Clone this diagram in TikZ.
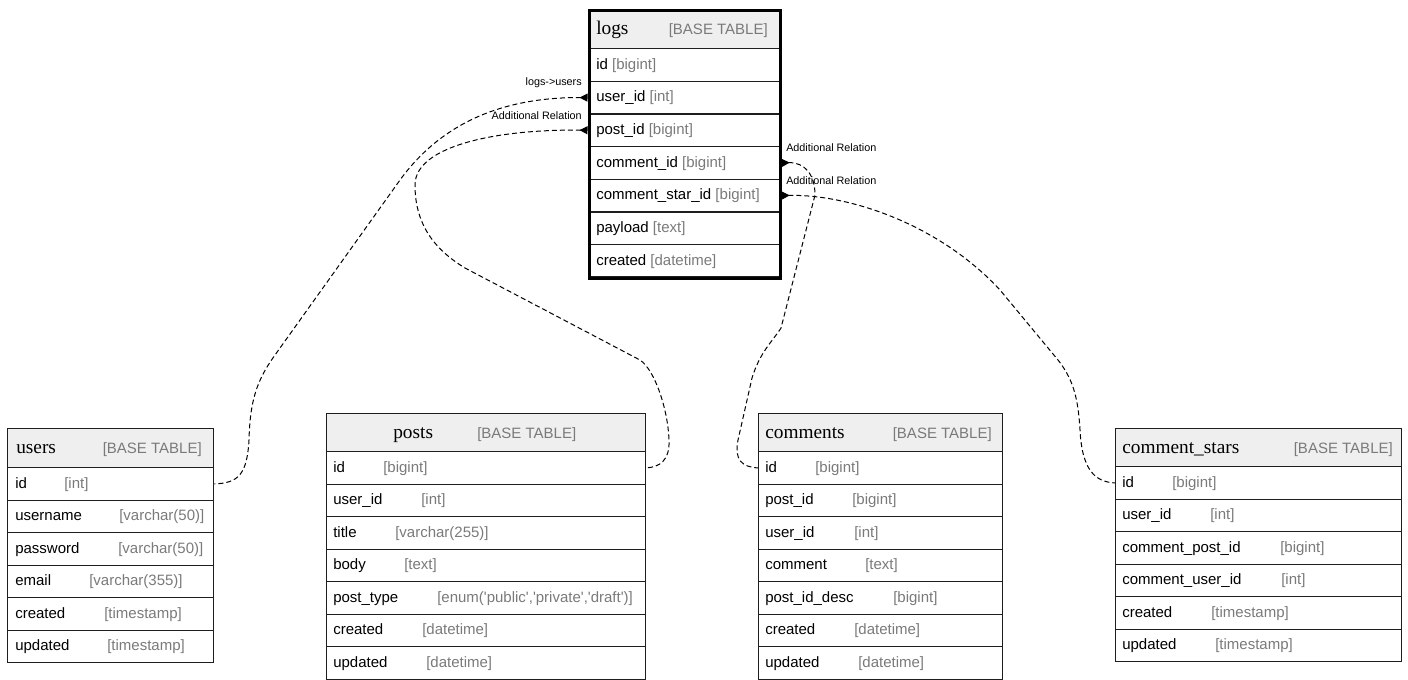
\documentclass[tikz,border=0pt]{standalone}
\usepackage{fontspec}
\newfontfamily\sansf{Liberation Sans}
\newfontfamily\seriff{Liberation Serif}
\usetikzlibrary{arrows.meta}
\definecolor{hdrfill}{HTML}{EFEFEF}
\definecolor{typegray}{HTML}{7A7A7A}
\definecolor{rulecol}{HTML}{1E1E1E}

\tikzset{
  rowbox/.style={draw=rulecol, line width=1pt, rectangle, anchor=north west,
    inner sep=0pt, minimum height={32.5*0.75pt}},
  hdrbox/.style={rowbox, fill=hdrfill, minimum height={38*0.75pt}},
  fld/.style={font=\sansf\fontsize{11.25pt}{13pt}\selectfont, anchor=base west,
    inner sep=0pt, text=black},
  typ/.style={fld, text=typegray},
  tname/.style={font=\seriff\fontsize{14.5pt}{17pt}\selectfont, anchor=base west,
    inner sep=0pt, text=black},
  tkind/.style={fld, anchor=base east, text=typegray},
  lbl/.style={font=\sansf\fontsize{8.1pt}{10pt}\selectfont, inner sep=0pt, text=black},
  rel/.style={line width=0.75pt, dash pattern=on 3.75pt off 2.25pt,
    arrows={Triangle[reversed,length=6pt,width=6pt]-}},
  frame/.style={draw=black, line width=2.4pt, rectangle, anchor=north west, inner sep=0pt},
}

\begin{document}
\begin{tikzpicture}[x=0.75pt,y=-0.75pt]
\useasboundingbox (0,0) rectangle (1408,679);

% ---------------- logs ----------------
\node[hdrbox, minimum width={191*0.75pt}, minimum height={39.5*0.75pt}] (logs-head) at (587.5,8.5) {};
\node[tname] (logs-title) at (596,34) {logs};
\node[tkind] (logs-kind) at (768,34) {[BASE TABLE]};
\foreach \k/\n/\t [count=\i from 0] in {
    id/id/{[bigint]},
    user_id/user\_id/{[int]},
    post_id/post\_id/{[bigint]},
    comment_id/comment\_id/{[bigint]},
    comment_star_id/comment\_star\_id/{[bigint]},
    payload/payload/{[text]},
    created/created/{[datetime]}}{
  \node[rowbox, minimum width={191*0.75pt}, minimum height={32.64*0.75pt}]
    (logs-\k) at (587.5,48+32.64*\i) {};
  \node[fld] (logs-\k-name) at (596,48+32.64*\i+21.3) {\n\ \textcolor{typegray}{\t}};
}
\node[frame, minimum width={191*0.75pt}, minimum height={268*0.75pt}] (logs) at (587.5,8.5) {};

% ---------------- users ----------------
\node[hdrbox, minimum width={206*0.75pt}, minimum height={39*0.75pt}] (users-head) at (7,428) {};
\node[tname] (users-title) at (16,453) {users};
\node[tkind] (users-kind) at (202,453) {[BASE TABLE]};
\foreach \k/\n/\tx/\t [count=\i from 0] in {
    id/id/64/{[int]},
    username/username/119/{[varchar(50)]},
    password/password/118/{[varchar(50)]},
    email/email/89/{[varchar(355)]},
    created/created/104/{[timestamp]},
    updated/updated/107/{[timestamp]}}{
  \node[rowbox, minimum width={206*0.75pt}] (users-\k) at (7,467+32.5*\i) {};
  \node[fld] (users-\k-name) at (15,467+32.5*\i+21.25) {\n};
  \node[typ] (users-\k-type) at (\tx,467+32.5*\i+21.25) {\t};
}

% ---------------- posts ----------------
\node[hdrbox, minimum width={319*0.75pt}] (posts-head) at (326,413) {};
\node[tname] (posts-title) at (393,438) {posts};
\node[typ] (posts-kind) at (477,438) {[BASE TABLE]};
\foreach \k/\n/\tx/\t [count=\i from 0] in {
    id/id/383/{[bigint]},
    user_id/user\_id/421/{[int]},
    title/title/395/{[varchar(255)]},
    body/body/404/{[text]},
    post_type/post\_type/437/{[enum('public','private','draft')]},
    created/created/422/{[datetime]},
    updated/updated/426/{[datetime]}}{
  \node[rowbox, minimum width={319*0.75pt}] (posts-\k) at (326,451+32.5*\i) {};
  \node[fld] (posts-\k-name) at (333,451+32.5*\i+21.25) {\n};
  \node[typ] (posts-\k-type) at (\tx,451+32.5*\i+21.25) {\t};
}

% ---------------- comments ----------------
\node[hdrbox, minimum width={244*0.75pt}] (comments-head) at (758,413) {};
\node[tname] (comments-title) at (765,438) {comments};
\node[tkind] (comments-kind) at (992,438) {[BASE TABLE]};
\foreach \k/\n/\tx/\t [count=\i from 0] in {
    id/id/815/{[bigint]},
    post_id/post\_id/852/{[bigint]},
    user_id/user\_id/854/{[int]},
    comment/comment/865/{[text]},
    post_id_desc/post\_id\_desc/893/{[bigint]},
    created/created/854/{[datetime]},
    updated/updated/858/{[datetime]}}{
  \node[rowbox, minimum width={244*0.75pt}] (comments-\k) at (758,451+32.5*\i) {};
  \node[fld] (comments-\k-name) at (765,451+32.5*\i+21.25) {\n};
  \node[typ] (comments-\k-type) at (\tx,451+32.5*\i+21.25) {\t};
}

% ---------------- comment_stars ----------------
\node[hdrbox, minimum width={286*0.75pt}] (comment_stars-head) at (1115,428) {};
\node[tname] (comment_stars-title) at (1122,453) {comment\_stars};
\node[tkind] (comment_stars-kind) at (1393,453) {[BASE TABLE]};
\foreach \k/\n/\tx/\t [count=\i from 0] in {
    id/id/1172/{[bigint]},
    user_id/user\_id/1210/{[int]},
    comment_post_id/comment\_post\_id/1280/{[bigint]},
    comment_user_id/comment\_user\_id/1281/{[int]},
    created/created/1211/{[timestamp]},
    updated/updated/1215/{[timestamp]}}{
  \node[rowbox, minimum width={286*0.75pt}] (comment_stars-\k) at (1115,466+32.5*\i) {};
  \node[fld] (comment_stars-\k-name) at (1122,466+32.5*\i+21.25) {\n};
  \node[typ] (comment_stars-\k-type) at (\tx,466+32.5*\i+21.25) {\t};
}

% ---------------- relations ----------------
\draw[rel] (logs.west |- logs-user_id)
  .. controls (500,97) and (440,125) .. (400,180)
  -- (275,355)
  .. controls (257,380) and (250,400) .. (249,440)
  .. controls (247,475) and (238,483) .. (users-id.east);

\draw[rel] (logs.west |- logs-post_id)
  .. controls (500,129) and (415,145) .. (415,185)
  .. controls (415,222) and (432,248) .. (465,268)
  -- (640,360)
  .. controls (655,370) and (668,410) .. (669,440)
  .. controls (670,460) and (660,467) .. (posts-id.east);

\draw[rel] (logs.east |- logs-comment_id)
  .. controls (805,162) and (815,175) .. (815,195)
  -- (781,328)
  .. controls (772,342) and (760,352) .. (752,378)
  -- (738,440)
  .. controls (734,460) and (742,467) .. (comments-id.west);

\draw[rel] (logs.east |- logs-comment_star_id)
  .. controls (850,194) and (940,225) .. (1000,290)
  -- (1058,360)
  .. controls (1072,378) and (1078,395) .. (1080,430)
  .. controls (1082,470) and (1095,482) .. (comment_stars-id.west);

% relation labels
\node[lbl, anchor=base east] (rel-users) at (582,85.5) {logs->users};
\node[lbl, anchor=base east] (rel-posts) at (582,119) {Additional Relation};
\node[lbl, anchor=base west] (rel-comments) at (786,151) {Additional Relation};
\node[lbl, anchor=base west] (rel-stars) at (786,184) {Additional Relation};
\end{tikzpicture}
\end{document}
